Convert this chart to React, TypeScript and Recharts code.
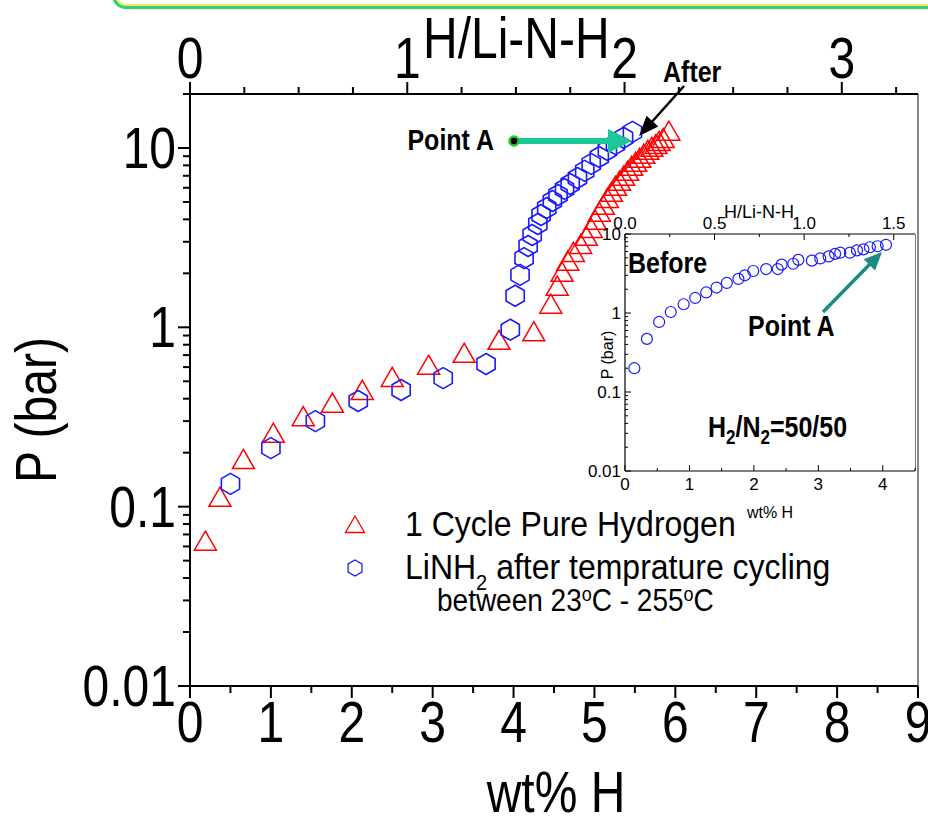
import React from 'react';
import { ScatterChart, Scatter, XAxis, YAxis, ReferenceLine } from 'recharts';

const FONT = '"Liberation Sans", Arial, Helvetica, sans-serif';
const STRETCH = 1.2;

// wt% H per unit of H/Li-N-H2 (top axes)
const WT_PER_H = 2.686;
const INSET_WT_PER_H = 2.78;

// 1 Cycle Pure Hydrogen (red triangles)
const cycleWt = [
  0.19, 0.37, 0.66, 1.03, 1.4, 1.76, 2.13, 2.5, 2.95, 3.39, 3.82, 4.25,
  4.46, 4.54, 4.6, 4.67, 4.74, 4.83, 4.9, 4.96, 5.01, 5.06, 5.11, 5.16, 5.21,
  5.26, 5.31, 5.36, 5.41, 5.46, 5.51, 5.56, 5.61, 5.66, 5.71, 5.76, 5.8, 5.85, 5.92,
];
const cycleP = [
  0.062, 0.109, 0.177, 0.248, 0.307, 0.365, 0.43, 0.508, 0.594, 0.692, 0.818, 0.913,
  1.3, 1.64, 1.96, 2.26, 2.53, 2.8, 3.11, 3.44, 3.82, 4.23, 4.63, 5.06, 5.47,
  5.91, 6.3, 6.72, 7.16, 7.64, 8.04, 8.46, 8.91, 9.38, 9.75, 10.1, 10.5, 10.9, 12.0,
];

// LiNH2 after temperature cycling (blue hexagons)
const tempWt = [
  0.5, 1.0, 1.55, 2.08, 2.61, 3.13, 3.66, 3.96, 4.02, 4.08, 4.13, 4.18, 4.23, 4.3,
  4.34, 4.41, 4.48, 4.55, 4.63, 4.7, 4.79, 4.88, 4.96, 5.06, 5.16, 5.26, 5.36, 5.47,
];
const tempP = [
  0.134, 0.212, 0.3, 0.388, 0.447, 0.521, 0.624, 0.97, 1.5, 1.96, 2.43, 2.84, 3.27, 3.77,
  4.23, 4.63, 5.06, 5.47, 5.91, 6.3, 6.8, 7.45, 8.15, 8.91, 9.75, 10.5, 11.4, 12.3,
];

// inset: Before, H2/N2 = 50/50 (blue circles)
const beforeWt = [
  0.145, 0.34, 0.53, 0.71, 0.91, 1.09, 1.26, 1.42, 1.58, 1.76, 1.86, 1.99, 2.19, 2.37,
  2.43, 2.61, 2.69, 2.9, 3.03, 3.16, 3.26, 3.34, 3.49, 3.6, 3.7, 3.8, 3.92, 4.05,
];
const beforeP = [
  0.2, 0.47, 0.77, 1.03, 1.29, 1.55, 1.82, 2.1, 2.4, 2.7, 3.0, 3.4, 3.6, 3.6,
  4.1, 4.2, 4.7, 4.6, 4.9, 5.2, 5.6, 5.8, 5.8, 6.2, 6.4, 6.8, 7.0, 7.3,
];

const bottomTicks = [0, 0.5, 1, 1.5, 2, 2.5, 3, 3.5, 4, 4.5, 5, 5.5, 6, 6.5, 7, 7.5, 8, 8.5, 9];
const topTicks = [0, 0.25, 0.5, 0.75, 1, 1.25, 1.5, 1.75, 2, 2.25, 2.5, 2.75, 3, 3.25];
const pTicks = [
  0.01, 0.02, 0.03, 0.04, 0.05, 0.06, 0.07, 0.08, 0.09,
  0.1, 0.2, 0.3, 0.4, 0.5, 0.6, 0.7, 0.8, 0.9,
  1, 2, 3, 4, 5, 6, 7, 8, 9, 10, 20,
];
const insetXTicks = [0, 0.5, 1, 1.5, 2, 2.5, 3, 3.5, 4, 4.5];
const insetTopTicks = [0, 0.25, 0.5, 0.75, 1, 1.25, 1.5];
const insetPTicks = [
  0.01, 0.02, 0.03, 0.04, 0.05, 0.06, 0.07, 0.08, 0.09,
  0.1, 0.2, 0.3, 0.4, 0.5, 0.6, 0.7, 0.8, 0.9,
  1, 2, 3, 4, 5, 6, 7, 8, 9, 10,
];

const cycleData = cycleWt.map((x, i) => ({ x, p: cycleP[i] }));
const tempData = tempWt.map((x, i) => ({ x, p: tempP[i] }));
const beforeData = beforeWt.map((x, i) => ({ x, p: beforeP[i] }));
// same points in H/Li-N-H2 units, only so the top axes have a series
const cycleDataH = cycleData.map((d) => ({ x: d.x / WT_PER_H, p: d.p }));
const beforeDataH = beforeData.map((d) => ({ x: d.x / INSET_WT_PER_H, p: d.p }));

const isDecade = (v: number) => Math.abs(Math.log10(v) - Math.round(Math.log10(v))) < 1e-6;

const triPoints = (cx: number, cy: number, side: number) => {
  const h = side * 0.866;
  return `${cx},${cy - (2 * h) / 3} ${cx + side / 2},${cy + h / 3} ${cx - side / 2},${cy + h / 3}`;
};
const hexPoints = (cx: number, cy: number, r: number) => {
  const pts: string[] = [];
  for (let k = 0; k < 6; k++) {
    const a = ((-90 + 60 * k) * Math.PI) / 180;
    pts.push(`${cx + r * Math.cos(a)},${cy + r * Math.sin(a)}`);
  }
  return pts.join(' ');
};

const Triangle = (props: any) => (
  <polygon points={triPoints(props.cx, props.cy, 22)} fill="none" stroke="#ff0000" strokeWidth={1.5} />
);
const Hexagon = (props: any) => (
  <polygon points={hexPoints(props.cx, props.cy, 10.5)} fill="none" stroke="#1a1aff" strokeWidth={1.6} />
);
const Circle = (props: any) => (
  <circle cx={props.cx} cy={props.cy} r={5.5} fill="none" stroke="#1a1aff" strokeWidth={1.2} />
);
const Nothing = () => <g />;

// text drawn a bit taller than the font, like the original figure
const TallText = ({ x, y, size, anchor = 'start', weight = 'normal', sy = STRETCH, rotate = 0, children }: any) => (
  <text
    transform={`translate(${x},${y}) rotate(${rotate}) scale(1,${sy})`}
    fontSize={size}
    fontWeight={weight}
    textAnchor={anchor}
    fontFamily={FONT}
    fill="#000"
  >
    {children}
  </text>
);

// main axes ticks (outward)
const BottomTick = ({ x, y, payload }: any) => {
  const v = payload.value;
  const major = Number.isInteger(v);
  return (
    <g>
      <line x1={x} x2={x} y1={y} y2={y + (major ? 12 : 7)} stroke="#000" strokeWidth={2} />
      {major && (
        <TallText x={x} y={y + 56} size={48} anchor="middle">
          {v}
        </TallText>
      )}
    </g>
  );
};
const TopTick = ({ x, y, payload }: any) => {
  const v = payload.value;
  const major = Number.isInteger(v);
  return (
    <g>
      <line x1={x} x2={x} y1={y} y2={y - (major ? 12 : 7)} stroke="#000" strokeWidth={2} />
      {major && (
        <TallText x={x} y={y - 16} size={48} anchor="middle">
          {v}
        </TallText>
      )}
    </g>
  );
};
const LeftTick = ({ x, y, payload }: any) => {
  const v = payload.value;
  const major = isDecade(v);
  return (
    <g>
      <line x1={x} x2={x - (major ? 12 : 7)} y1={y} y2={y} stroke="#000" strokeWidth={2} />
      {major && (
        <TallText x={x - 14} y={y + 20} size={48} anchor="end">
          {String(v)}
        </TallText>
      )}
    </g>
  );
};

// inset ticks (inward)
const InsetBottomTick = ({ x, y, payload }: any) => {
  const v = payload.value;
  const major = Number.isInteger(v);
  return (
    <g>
      <line x1={x} x2={x} y1={y} y2={y - (major ? 6 : 3)} stroke="#000" strokeWidth={1} />
      {major && (
        <text x={x} y={y + 19} textAnchor="middle" fontSize={17} fontFamily={FONT} fill="#000">
          {v}
        </text>
      )}
    </g>
  );
};
const InsetTopTick = ({ x, y, payload }: any) => {
  const v = payload.value;
  const major = Math.abs(v * 2 - Math.round(v * 2)) < 1e-6;
  return (
    <g>
      <line x1={x} x2={x} y1={y} y2={y + (major ? 6 : 3)} stroke="#000" strokeWidth={1} />
      {major && (
        <text x={x} y={y - 5} textAnchor="middle" fontSize={17} fontFamily={FONT} fill="#000">
          {v.toFixed(1)}
        </text>
      )}
    </g>
  );
};
const InsetLeftTick = ({ x, y, payload }: any) => {
  const v = payload.value;
  const major = isDecade(v);
  return (
    <g>
      <line x1={x} x2={x + (major ? 6 : 3)} y1={y} y2={y} stroke="#000" strokeWidth={1} />
      {major && (
        <text x={x - 4} y={y + 6} textAnchor="end" fontSize={17} fontFamily={FONT} fill="#000">
          {String(v)}
        </text>
      )}
    </g>
  );
};

const MainChart = () => (
  <ScatterChart width={928} height={818} margin={{ top: 34, right: 10, bottom: 0, left: 0 }}>
    <XAxis
      xAxisId="wt"
      type="number"
      dataKey="x"
      domain={[0, 9]}
      ticks={bottomTicks}
      interval={0}
      allowDataOverflow
      orientation="bottom"
      height={132}
      tickSize={0}
      tickMargin={0}
      tickLine={false}
      tick={(p: any) => <BottomTick {...p} />}
      axisLine={{ stroke: '#000', strokeWidth: 2 }}
    />
    <XAxis
      xAxisId="hli"
      type="number"
      dataKey="x"
      domain={[0, 9 / WT_PER_H]}
      ticks={topTicks}
      interval={0}
      allowDataOverflow
      orientation="top"
      height={60}
      tickSize={0}
      tickMargin={0}
      tickLine={false}
      tick={(p: any) => <TopTick {...p} />}
      axisLine={{ stroke: '#000', strokeWidth: 2 }}
    />
    <YAxis
      yAxisId="p"
      type="number"
      dataKey="p"
      scale="log"
      domain={[0.01, 20]}
      ticks={pTicks}
      interval={0}
      allowDataOverflow
      width={190}
      tickSize={0}
      tickMargin={0}
      tickLine={false}
      tick={(p: any) => <LeftTick {...p} />}
      axisLine={{ stroke: '#000', strokeWidth: 2 }}
    />
    <ReferenceLine xAxisId="wt" yAxisId="p" x={9} stroke="#888" strokeWidth={2} />
    <Scatter xAxisId="hli" yAxisId="p" data={cycleDataH} shape={Nothing} isAnimationActive={false} />
    <Scatter xAxisId="wt" yAxisId="p" data={cycleData} shape={Triangle} isAnimationActive={false} />
    <Scatter xAxisId="wt" yAxisId="p" data={tempData} shape={Hexagon} isAnimationActive={false} />
  </ScatterChart>
);

const InsetChart = () => (
  <ScatterChart width={345} height={305} margin={{ top: 0, right: 15, bottom: 0, left: 0 }}>
    <XAxis
      xAxisId="wt"
      type="number"
      dataKey="x"
      domain={[0, 4.5]}
      ticks={insetXTicks}
      interval={0}
      allowDataOverflow
      orientation="bottom"
      height={29}
      tickSize={0}
      tickMargin={0}
      tickLine={false}
      tick={(p: any) => <InsetBottomTick {...p} />}
      axisLine={{ stroke: '#000', strokeWidth: 1.2 }}
    />
    <XAxis
      xAxisId="hli"
      type="number"
      dataKey="x"
      domain={[0, 4.5 / INSET_WT_PER_H]}
      ticks={insetTopTicks}
      interval={0}
      allowDataOverflow
      orientation="top"
      height={39}
      tickSize={0}
      tickMargin={0}
      tickLine={false}
      tick={(p: any) => <InsetTopTick {...p} />}
      axisLine={{ stroke: '#000', strokeWidth: 1.2 }}
    />
    <YAxis
      yAxisId="p"
      type="number"
      dataKey="p"
      scale="log"
      domain={[0.01, 10]}
      ticks={insetPTicks}
      interval={0}
      allowDataOverflow
      width={40}
      tickSize={0}
      tickMargin={0}
      tickLine={false}
      tick={(p: any) => <InsetLeftTick {...p} />}
      axisLine={{ stroke: '#000', strokeWidth: 1.2 }}
    />
    <Scatter xAxisId="hli" yAxisId="p" data={beforeDataH} shape={Nothing} isAnimationActive={false} />
    <Scatter xAxisId="wt" yAxisId="p" data={beforeData} shape={Circle} isAnimationActive={false} />
  </ScatterChart>
);

const Annotations = () => (
  <svg width={928} height={818} style={{ position: 'absolute', left: 0, top: 0, pointerEvents: 'none' }}>
    {/* main axis titles */}
    <TallText x={423} y={58} size={48}>H/Li-N-H</TallText>
    <TallText x={556} y={812} size={48} anchor="middle">wt% H</TallText>
    <TallText x={56} y={410} size={48} anchor="middle" rotate={-90}>P (bar)</TallText>

    {/* Point A / After on main plot */}
    <TallText x={494} y={150} size={25} weight="bold" anchor="end" sy={1.15}>Point A</TallText>
    <line x1={514} y1={141} x2={612} y2={141} stroke="#1ec79a" strokeWidth={6} />
    <polygon points="608,129 632,141 608,153" fill="#1ec79a" />
    <circle cx={514} cy={141} r={4.5} fill="#000" stroke="#22cc22" strokeWidth={2.5} />
    <TallText x={663} y={82} size={25} weight="bold" sy={1.15}>After</TallText>
    <line x1={684} y1={86} x2={650} y2={124} stroke="#000" strokeWidth={2.5} />
    <polygon points="639,136 658.3,126.5 646.5,115.7" fill="#000" />

    {/* inset texts */}
    <text x={759} y={218} fontSize={18} fontFamily={FONT} textAnchor="middle">H/Li-N-H</text>
    <text x={770} y={518} fontSize={16} fontFamily={FONT} textAnchor="middle">wt% H</text>
    <text transform="translate(613,355) rotate(-90)" fontSize={16} fontFamily={FONT} textAnchor="middle">
      P (bar)
    </text>
    <TallText x={628} y={273} size={25} weight="bold" sy={1.15}>Before</TallText>
    <TallText x={748} y={336} size={25} weight="bold" sy={1.15}>Point A</TallText>
    <line x1={823} y1={312} x2={870} y2={264} stroke="#1b8c84" strokeWidth={3.5} />
    <polygon points="882,252 875.1,270.4 863.7,259.2" fill="#1b8c84" />
    <TallText x={708} y={437} size={25} weight="bold" sy={1.15}>
      H<tspan fontSize={17} dy={6}>2</tspan>
      <tspan dy={-6}>/N</tspan>
      <tspan fontSize={17} dy={6}>2</tspan>
      <tspan dy={-6}>=50/50</tspan>
    </TallText>

    {/* legend */}
    <polygon points={triPoints(355, 527, 19)} fill="none" stroke="#ff0000" strokeWidth={1.3} />
    <TallText x={405} y={536} size={32} sy={1.1}>1 Cycle Pure Hydrogen</TallText>
    <polygon points={hexPoints(355, 568, 8)} fill="none" stroke="#1a1aff" strokeWidth={1.3} />
    <TallText x={405} y={579} size={32} sy={1.1}>
      LiNH<tspan fontSize={20} dy={10}>2</tspan>
      <tspan dy={-10}> after temprature cycling</tspan>
    </TallText>
    <TallText x={437} y={611} size={28} sy={1.1}>
      between 23<tspan fontSize={18} dy={-9}>o</tspan>
      <tspan dy={9}>C - 255</tspan>
      <tspan fontSize={18} dy={-9}>o</tspan>
      <tspan dy={9}>C</tspan>
    </TallText>
  </svg>
);

export default function App() {
  return (
    <div
      style={{
        position: 'absolute',
        left: 0,
        top: 0,
        width: 928,
        height: 818,
        background: '#fff',
        overflow: 'hidden',
        fontFamily: FONT,
      }}
    >
      <div
        style={{
          position: 'absolute',
          left: 112,
          top: -40,
          width: 860,
          height: 43,
          border: '3px solid #2ccf7a',
          borderRadius: 14,
          boxShadow: 'inset 0 0 0 2px #ece85a',
        }}
      />
      <div style={{ position: 'absolute', left: 0, top: 0 }}>
        <MainChart />
      </div>
      <div
        style={{
          position: 'absolute',
          left: 625,
          top: 234,
          width: 290,
          height: 237,
          background: '#fff',
          borderRight: '1px solid #777',
        }}
      />
      <div style={{ position: 'absolute', left: 585, top: 195 }}>
        <InsetChart />
      </div>
      <Annotations />
    </div>
  );
}
